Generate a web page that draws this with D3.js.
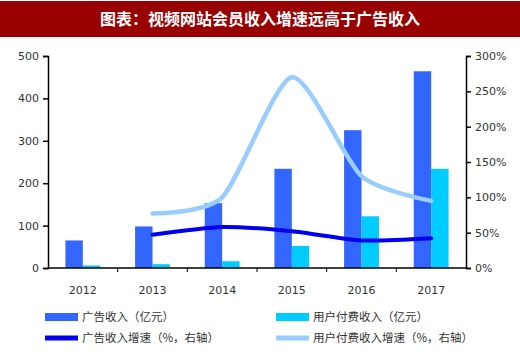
<!DOCTYPE html>
<html><head><meta charset="utf-8">
<script src="https://cdn.jsdelivr.net/npm/d3@7"></script>
<style>body{margin:0;background:#fff}svg{display:block}</style>
</head><body><svg id="c" width="520" height="364"></svg>
<script>
const years = ["2012","2013","2014","2015","2016","2017"];
const adRevenue = [65, 98, 153, 234, 325, 464];
const paidRevenue = [6, 9, 16, 52, 122, 234];
const adGrowth = [null, 47, 58, 52, 39, 42];
const paidGrowth = [null, 77, 100, 270, 130, 95];
const leftTicks = [0,100,200,300,400,500];
const rightTicks = [0,50,100,150,200,250,300];
const title = "图表：视频网站会员收入增速远高于广告收入";
const legendLabels = ["广告收入（亿元）","用户付费收入（亿元）","广告收入增速（%，右轴）","用户付费收入增速（%，右轴）"];
const colors = {ad:"#3366ff", paid:"#00ccff", adG:"#0000ee", paidG:"#99ccff"};

const svg = d3.select("#c");
const font = "'DejaVu Sans', Verdana, sans-serif";
const cjk = "'Noto Sans CJK SC', sans-serif";

// title bar
svg.append("rect").attr("x",0).attr("y",1).attr("width",520).attr("height",36).attr("fill","#990000");
svg.append("text").attr("x",260).attr("y",25).attr("text-anchor","middle")
  .attr("fill","#fff").attr("font-family",cjk).attr("font-weight","bold").attr("font-size",16).text(title);

const L = 48, R = 466, T = 56, B = 268;
const x = d3.scaleBand().domain(years).range([L,R]).paddingInner(0).paddingOuter(0);
const yL = d3.scaleLinear().domain([0,500]).range([B,T]);
const yR = d3.scaleLinear().domain([0,300]).range([B,T]);
const bw = x.bandwidth()*0.25;

// bars
const g = svg.append("g");
g.selectAll(".ad").data(years).join("rect")
  .attr("x",d=>x(d)+x.bandwidth()/2-bw).attr("width",bw)
  .attr("y",(d,i)=>yL(adRevenue[i])).attr("height",(d,i)=>B-yL(adRevenue[i])).attr("fill",colors.ad);
g.selectAll(".paid").data(years).join("rect")
  .attr("x",d=>x(d)+x.bandwidth()/2).attr("width",bw)
  .attr("y",(d,i)=>yL(paidRevenue[i])).attr("height",(d,i)=>B-yL(paidRevenue[i])).attr("fill",colors.paid);

// lines
const cx = d=>x(d)+x.bandwidth()/2;
function drawLine(vals,color,w){
  const pts = years.map((y,i)=>[cx(y),vals[i]]).filter(p=>p[1]!=null);
  svg.append("path").datum(pts)
    .attr("d",d3.line().x(p=>p[0]).y(p=>yR(p[1])).curve(d3.curveCardinal.tension(0.3)))
    .attr("fill","none").attr("stroke",color).attr("stroke-width",w).attr("stroke-linecap","round");
}
drawLine(paidGrowth,colors.paidG,4.5);
drawLine(adGrowth,colors.adG,4);

// axes
const ax = svg.append("g").attr("transform",`translate(0,${B})`);
ax.append("line").attr("x1",L).attr("x2",R).attr("stroke","#000").attr("stroke-width",1.5);
ax.selectAll(".t").data(years.slice(1)).join("line")
  .attr("x1",d=>x(d)).attr("x2",d=>x(d)).attr("y1",0).attr("y2",4).attr("stroke","#000");
ax.selectAll("text").data(years).join("text")
  .attr("x",d=>cx(d)).attr("y",26).attr("text-anchor","middle")
  .attr("font-family",font).attr("font-size",11).attr("fill","#333").text(d=>d);

const al = svg.append("g").attr("transform",`translate(${L},0)`)
  .call(d3.axisLeft(yL).tickValues(leftTicks).tickSize(5).tickPadding(4));
const ar = svg.append("g").attr("transform",`translate(${R},0)`)
  .call(d3.axisRight(yR).tickValues(rightTicks).tickSize(5).tickPadding(4).tickFormat(d=>d+"%"));
[al,ar].forEach(a=>{
  a.select(".domain").attr("stroke","#000").attr("stroke-width",1.5);
  a.selectAll(".tick line").attr("stroke","#000").attr("stroke-width",1.5);
  a.selectAll("text").attr("font-family",font).attr("font-size",11).attr("fill","#333");
});

// legend
const lg = svg.append("g");
const pos = [[45,317],[276,317],[45,338],[276,338]];
legendLabels.forEach((t,i)=>{
  const [lx,ly] = pos[i];
  if(i<2){
    lg.append("rect").attr("x",lx).attr("y",ly-4).attr("width",33).attr("height",8)
      .attr("fill",i===0?colors.ad:colors.paid);
  } else {
    lg.append("line").attr("x1",lx).attr("x2",lx+33).attr("y1",ly).attr("y2",ly)
      .attr("stroke",i===2?colors.adG:colors.paidG).attr("stroke-width",5);
  }
  lg.append("text").attr("x",lx+37).attr("y",ly+4).attr("font-family",cjk)
    .attr("font-size",11.5).attr("fill","#333").text(t);
});
</script></body></html>
